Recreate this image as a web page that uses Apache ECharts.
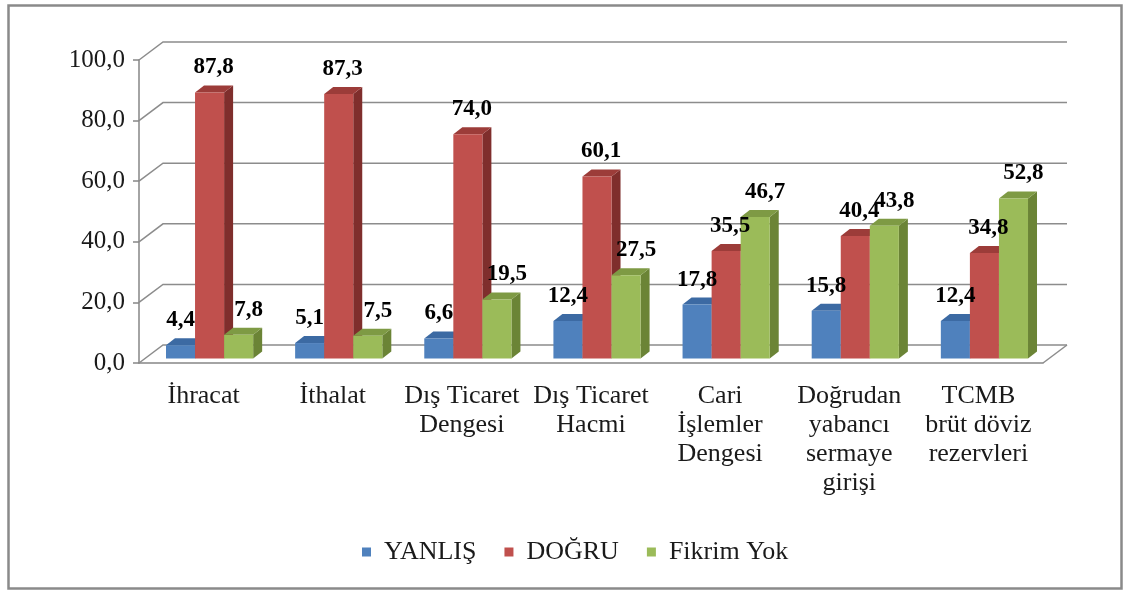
<!DOCTYPE html>
<html>
<head>
<meta charset="utf-8">
<script src="https://cdn.jsdelivr.net/npm/echarts@6/dist/echarts.min.js"></script>
<style>
  html, body { margin: 0; padding: 0; background: #fff; }
  #chart { width: 1126px; height: 590px; }
</style>
</head>
<body>
<div id="chart"></div>
<script>
// data
const categories = ['İhracat', 'İthalat', 'Dış Ticaret\nDengesi', 'Dış Ticaret\nHacmi',
  'Cari\nİşlemler\nDengesi', 'Doğrudan\nyabancı\nsermaye\ngirişi', 'TCMB\nbrüt döviz\nrezervleri'];
const yanlis = [4.4, 5.1, 6.6, 12.4, 17.8, 15.8, 12.4];
const dogru = [87.8, 87.3, 74.0, 60.1, 35.5, 40.4, 34.8];
const fikrimYok = [7.8, 7.5, 19.5, 27.5, 46.7, 43.8, 52.8];
const yTicks = [0, 20, 40, 60, 80, 100];

// fake 3d depth of the walls and bars
const DX = 24, DY = -18;
const BDX = 9, BDY = -7;
const FONT = '"Liberation Serif", "Times New Roman", serif';

const fmt = v => v.toFixed(1).replace('.', ',');

function wallItem(params, api) {
  const cs = params.coordSys;
  const y = api.coord([0, api.value(1)])[1];
  const x0 = cs.x, x1 = cs.x + cs.width;
  const st = { stroke: '#8c8c8c', lineWidth: 1.5, fill: null };
  const children = [{
    type: 'polyline',
    shape: { points: [[x0, y], [x0 + DX, y + DY], [x1 + DX, y + DY]] },
    style: st
  }];
  if (api.value(1) === 0) {
    children.push({ type: 'line', shape: { x1: x1, y1: y, x2: x1 + DX, y2: y + DY }, style: st });
  }
  return { type: 'group', children: children };
}

// k = position in the group, lx = label nudge (excel pushes them right a bit)
function barItem(k, lx, front, side, top) {
  return function (params, api) {
    const ci = api.value(0), v = api.value(1);
    const base = api.coord([ci, 0]);
    const tp = api.coord([ci, v]);
    const bw = api.size([1, 0])[0] * 0.225;
    const x0 = base[0] - 1.5 * bw + k * bw + DX * 0.25;
    const yb = base[1] + DY * 0.25;
    const yt = tp[1] + DY * 0.25;
    return {
      type: 'group',
      children: [
        { type: 'polygon', shape: { points: [[x0 + bw, yt], [x0 + bw + BDX, yt + BDY], [x0 + bw + BDX, yb + BDY], [x0 + bw, yb]] }, style: { fill: side } },
        { type: 'polygon', shape: { points: [[x0, yt], [x0 + BDX, yt + BDY], [x0 + bw + BDX, yt + BDY], [x0 + bw, yt]] }, style: { fill: top } },
        { type: 'rect', shape: { x: x0, y: yt, width: bw, height: yb - yt }, style: { fill: front } },
        { type: 'text', z2: 100, style: { text: fmt(v), x: x0 + bw / 2 + lx, y: yt - 25, align: 'center', verticalAlign: 'middle', font: 'bold 23px ' + FONT, fill: '#000' } }
      ]
    };
  };
}

const chart = echarts.init(document.getElementById('chart'));
chart.setOption({
  animation: false,
  backgroundColor: '#fff',
  graphic: [{
    type: 'rect', left: 6, top: 3,
    shape: { width: 1113, height: 583 },
    style: { stroke: '#8a8a8a', lineWidth: 2.5, fill: null }
  }],
  legend: {
    left: 357, top: 534,
    itemWidth: 9, itemHeight: 9, itemGap: 28,
    icon: 'rect',
    data: ['YANLIŞ', 'DOĞRU', 'Fikrim Yok'],
    textStyle: { fontFamily: FONT, fontSize: 26, color: '#1a1a1a', padding: [0, 0, 0, 8] }
  },
  grid: { left: 139, right: 83, top: 60, bottom: 227, outerBoundsMode: 'none' },
  xAxis: {
    type: 'category',
    data: categories,
    axisLine: { lineStyle: { color: '#868686', width: 1.5 } },
    axisTick: { length: 8, lineStyle: { color: '#868686', width: 1.5 } },
    axisLabel: { interval: 0, margin: 19, lineHeight: 29, fontFamily: FONT, fontSize: 26, color: '#1a1a1a' },
    splitLine: { show: false }
  },
  yAxis: {
    type: 'value', min: 0, max: 100, interval: 20,
    axisLine: { show: true, lineStyle: { color: '#868686', width: 1.5 } },
    axisTick: { show: true, length: 6, lineStyle: { color: '#868686', width: 1.5 } },
    axisLabel: { margin: 14, fontFamily: FONT, fontSize: 25, color: '#1a1a1a', formatter: v => fmt(v) },
    splitLine: { show: false }
  },
  series: [
    { type: 'custom', name: 'wall', z: 1, silent: true, renderItem: wallItem, data: yTicks.map(v => [0, v]) },
    { type: 'custom', name: 'YANLIŞ', z: 2, itemStyle: { color: '#4f81bd' }, renderItem: barItem(0, 0, '#4f81bd', '#385d8a', '#3c6aa3'), data: yanlis.map((v, i) => [i, v]) },
    { type: 'custom', name: 'DOĞRU', z: 2, itemStyle: { color: '#c0504d' }, renderItem: barItem(1, 4, '#c0504d', '#7f2e2c', '#9c3c39'), data: dogru.map((v, i) => [i, v]) },
    { type: 'custom', name: 'Fikrim Yok', z: 2, itemStyle: { color: '#9bbb59' }, renderItem: barItem(2, 10, '#9bbb59', '#6b8436', '#7e9a44'), data: fikrimYok.map((v, i) => [i, v]) }
  ]
});
</script>
</body>
</html>
